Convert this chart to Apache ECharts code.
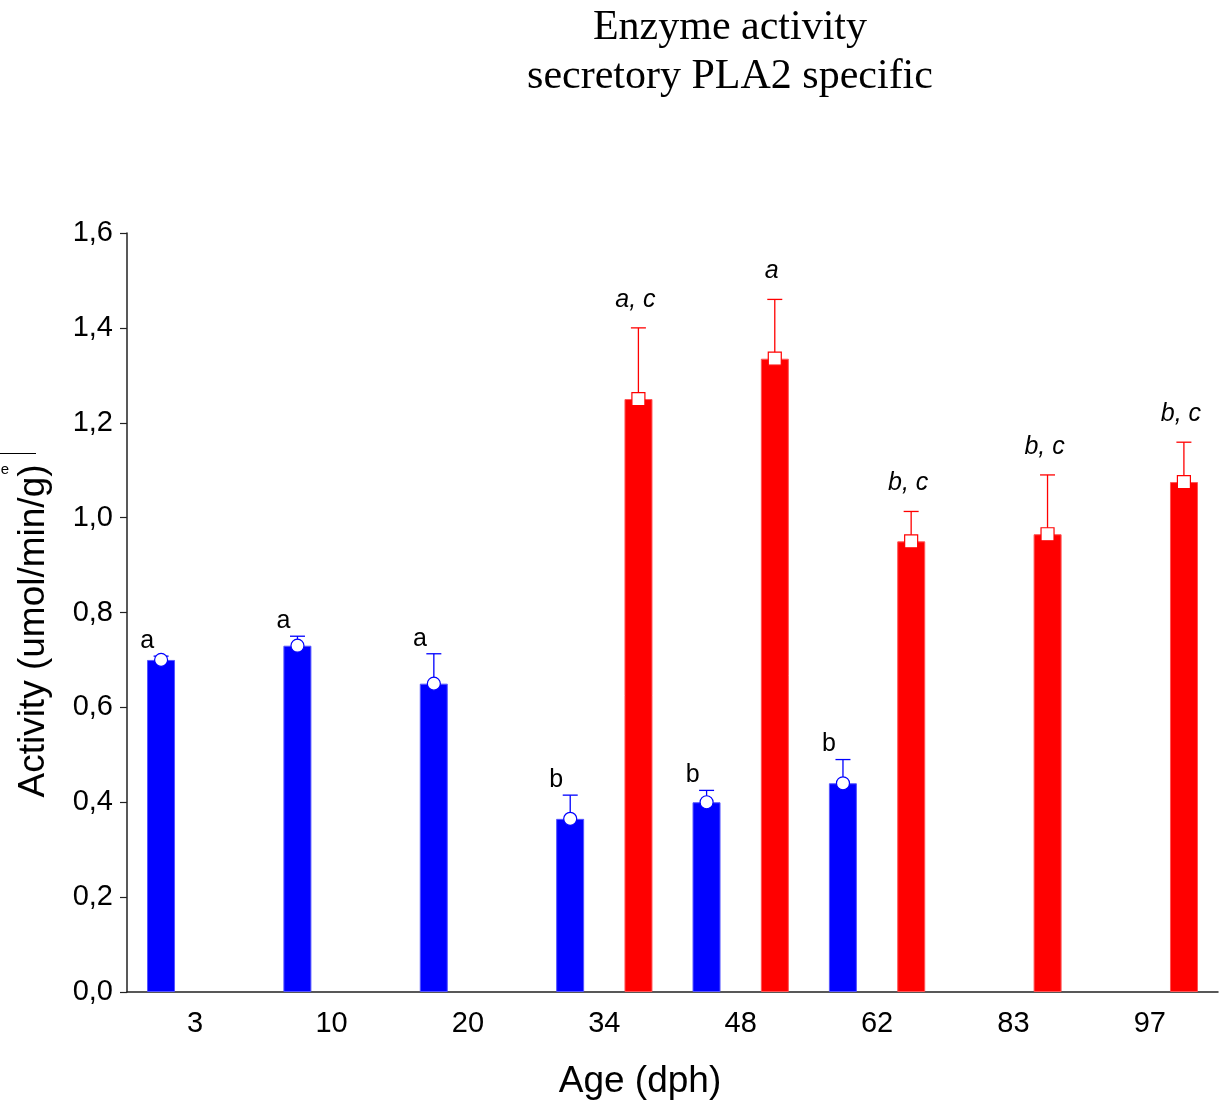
<!DOCTYPE html>
<html>
<head>
<meta charset="utf-8">
<script src="https://cdn.jsdelivr.net/npm/echarts@6/dist/echarts.min.js"></script>
<style>
  html, body { margin: 0; padding: 0; background: #fff; }
  #chart { width: 1224px; height: 1105px; }
</style>
</head>
<body>
<div id="chart"></div>
<script>
// Age groups (days post hatch)
const ages = ['3', '10', '20', '34', '48', '62', '83', '97'];

// Mean activity and upper error for the blue group
const blueMean = [0.70, 0.73, 0.65, 0.365, 0.40, 0.44, null, null];
const blueErr  = [0.008, 0.02, 0.063, 0.05, 0.025, 0.05, null, null];
const blueLetters = ['a', 'a', 'a', 'b', 'b', 'b', '', ''];

// Mean activity and upper error for the red group
const redMean = [null, null, null, 1.25, 1.335, 0.95, 0.965, 1.075];
const redErr  = [null, null, null, 0.15, 0.125, 0.063, 0.125, 0.084];
const redLetters = ['', '', '', 'a, c', 'a', 'b, c', 'b, c', 'b, c'];

const yTicks = { min: 0, max: 1.6, step: 0.2 };

const BLUE = '#0000ff';
const RED = '#ff0000';
const SANS = 'Liberation Sans, Arial, sans-serif';
const SERIF = 'Liberation Serif, Times New Roman, serif';

const chart = echarts.init(document.getElementById('chart'));

// Error bar, mean marker and significance letter for one group.
// side = -1 draws at the left bar slot, +1 at the right one.
function errorRenderer(means, errs, letters, color, side, marker, italic) {
  return function (params, api) {
    const i = api.value(0);
    const m = means[i];
    if (m == null) return;
    const band = api.size([1, 0])[0];
    const dx = side * band * 0.25;
    const base = api.coord([i, m]);
    const top = api.coord([i, m + errs[i]]);
    const x = base[0] + dx;
    const children = [
      { type: 'line', shape: { x1: x, y1: base[1], x2: x, y2: top[1] },
        style: { stroke: color, lineWidth: 1.3 } },
      { type: 'line', shape: { x1: x - 7.5, y1: top[1], x2: x + 7.5, y2: top[1] },
        style: { stroke: color, lineWidth: 1.3 } }
    ];
    if (marker === 'circle') {
      children.push({ type: 'circle', shape: { cx: x, cy: base[1], r: 6.5 },
        style: { fill: '#fff', stroke: color, lineWidth: 1.2 } });
    } else {
      children.push({ type: 'rect', shape: { x: x - 6.5, y: base[1] - 6.5, width: 13, height: 13 },
        style: { fill: '#fff', stroke: color, lineWidth: 1.2 } });
    }
    if (letters[i]) {
      children.push({ type: 'text',
        x: italic ? x - 3 : x - 14,
        y: top[1] - (italic ? 28 : 15),
        style: { text: letters[i], fill: '#000', align: 'center', verticalAlign: 'middle',
          font: (italic ? 'italic ' : '') + '25px ' + SANS } });
    }
    return { type: 'group', children: children };
  };
}

const idx = ages.map((_, i) => [i]);

chart.setOption({
  animation: false,
  backgroundColor: '#fff',
  grid: { left: 127, right: 6, top: 233, bottom: 113, containLabel: false },
  xAxis: {
    type: 'category',
    data: ages,
    axisLine: { lineStyle: { color: '#222', width: 1.5 } },
    axisTick: { alignWithLabel: true, inside: true, length: 7, lineStyle: { color: '#222', width: 1.2 } },
    axisLabel: { color: '#000', fontSize: 29, fontFamily: SANS, margin: 17 },
    splitLine: { show: false }
  },
  yAxis: {
    type: 'value',
    min: yTicks.min, max: yTicks.max, interval: yTicks.step,
    axisLine: { show: true, lineStyle: { color: '#222', width: 1.5 } },
    axisTick: { show: true, length: 7, lineStyle: { color: '#222', width: 1.2 } },
    axisLabel: { color: '#000', fontSize: 29, fontFamily: SANS, margin: 14,
      formatter: v => v.toFixed(1).replace('.', ',') },
    splitLine: { show: false }
  },
  graphic: [
    { type: 'text', x: 730, y: 28, style: { text: 'Enzyme activity', fill: '#000',
      align: 'center', verticalAlign: 'middle', font: '42px ' + SERIF } },
    { type: 'text', x: 730, y: 77, style: { text: 'secretory PLA2 specific', fill: '#000',
      align: 'center', verticalAlign: 'middle', font: '42px ' + SERIF } },
    { type: 'text', x: 640, y: 1082, style: { text: 'Age (dph)', fill: '#000',
      align: 'center', verticalAlign: 'middle', font: '37px ' + SANS } },
    { type: 'text', x: 34, y: 631, rotation: Math.PI / 2, style: { text: 'Activity (umol/min/g)', fill: '#000',
      align: 'center', verticalAlign: 'middle', font: '37px ' + SANS } },
    { type: 'line', shape: { x1: 0, y1: 453.5, x2: 36, y2: 453.5 }, style: { stroke: '#000', lineWidth: 1 } },
    { type: 'text', x: 5, y: 470, style: { text: 'e', fill: '#000', align: 'center',
      verticalAlign: 'middle', font: '15px ' + SANS } }
  ],
  series: [
    { type: 'bar', data: blueMean, barWidth: 28, barGap: '144%',
      itemStyle: { color: BLUE, borderColor: '#5555ff', borderWidth: 1 } },
    { type: 'bar', data: redMean, barWidth: 28, barGap: '144%',
      itemStyle: { color: RED, borderColor: '#ff5555', borderWidth: 1 } },
    { type: 'custom', data: idx, z: 5, encode: { x: 0 },
      renderItem: errorRenderer(blueMean, blueErr, blueLetters, BLUE, -1, 'circle', false) },
    { type: 'custom', data: idx, z: 5, encode: { x: 0 },
      renderItem: errorRenderer(redMean, redErr, redLetters, RED, 1, 'square', true) }
  ]
});
</script>
</body>
</html>
